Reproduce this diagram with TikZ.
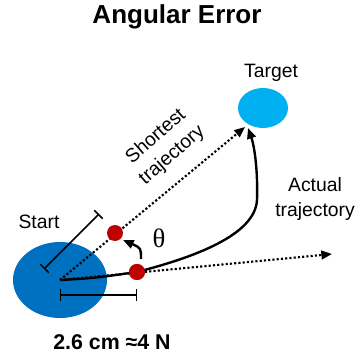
\documentclass[tikz,border=0pt]{standalone}
\usepackage{fontspec}
\setmainfont{Liberation Sans}
\newfontfamily\thetafont{Liberation Serif}
\usetikzlibrary{arrows.meta,shapes.geometric}

\tikzset{
  lbl/.style={font=\fontsize{14.5}{18.5}\selectfont,align=center,inner sep=0pt},
  reddot/.style={circle,fill=red!75!black,minimum size=12pt,inner sep=0pt},
  dotline/.style={line width=1.6pt,dash pattern=on 1.6pt off 1.6pt},
  scalebar/.style={line width=1.1pt,{Bar[width=9pt]}-{Bar[width=9pt]}}
}

\begin{document}
\begin{tikzpicture}[x=0.75pt,y=-0.75pt,>={Triangle[length=8pt,width=6.5pt]}]
\useasboundingbox (0,0) rectangle (357,356);

\node[font=\fontsize{19.5}{22}\selectfont\bfseries,inner sep=0pt] (title) at (177,17) {Angular Error};

\node[ellipse,fill={rgb,255:red,0;green,112;blue,192},minimum width=70.5pt,minimum height=57pt,inner sep=0pt] (start) at (60,280) {};
\node[ellipse,fill={rgb,255:red,0;green,176;blue,240},minimum width=37.5pt,minimum height=30pt,inner sep=0pt] (target) at (263,108) {};

\node[lbl] (startlbl) at (39,222) {Start};
\node[lbl] (targetlbl) at (271,73) {Target};
\node[lbl,rotate=41] (shortlbl) at (164,146) {Shortest\\trajectory};
\node[lbl] (actuallbl) at (315,199) {Actual\\trajectory};

% shortest and actual direction
\coordinate (shorttip) at (245,127);
\coordinate (dirtip) at (332,254);
\draw[dotline,->] (start.center) -- (shorttip);
\draw[dotline,->] (start.center) -- (dirtip);

\node[reddot] (dotA) at (115,233) {};
\node[reddot] (dotB) at (137,272) {};

% actual trajectory
\draw[line width=1.8pt,->] (start.center) .. controls (95,278) .. (dotB.center)
  .. controls (195,257) and (255,235) .. (257,200)
  .. controls (258,168) and (254,145) .. (248,128);
\node[reddot] at (dotB) {};

% angle
\coordinate (thA) at (141,259);
\coordinate (thB) at (123,240);
\draw[line width=1.8pt,->] (thA) .. controls (141,248) .. (thB);
\node[font=\thetafont\fontsize{20}{22}\selectfont,inner sep=0pt] (theta) at (159,238) {θ};

% scale bars
\coordinate (barA1) at (44,269);
\coordinate (barA2) at (99,214);
\draw[scalebar] (barA1) -- (barA2);
\coordinate (barB1) at (60,295);
\coordinate (barB2) at (137,295);
\draw[scalebar] (barB1) -- (barB2);

\node[font=\fontsize{16}{18}\selectfont\bfseries,inner sep=0pt] (scale) at (112,342) {2.6 cm ≈4 N};
\end{tikzpicture}
\end{document}
